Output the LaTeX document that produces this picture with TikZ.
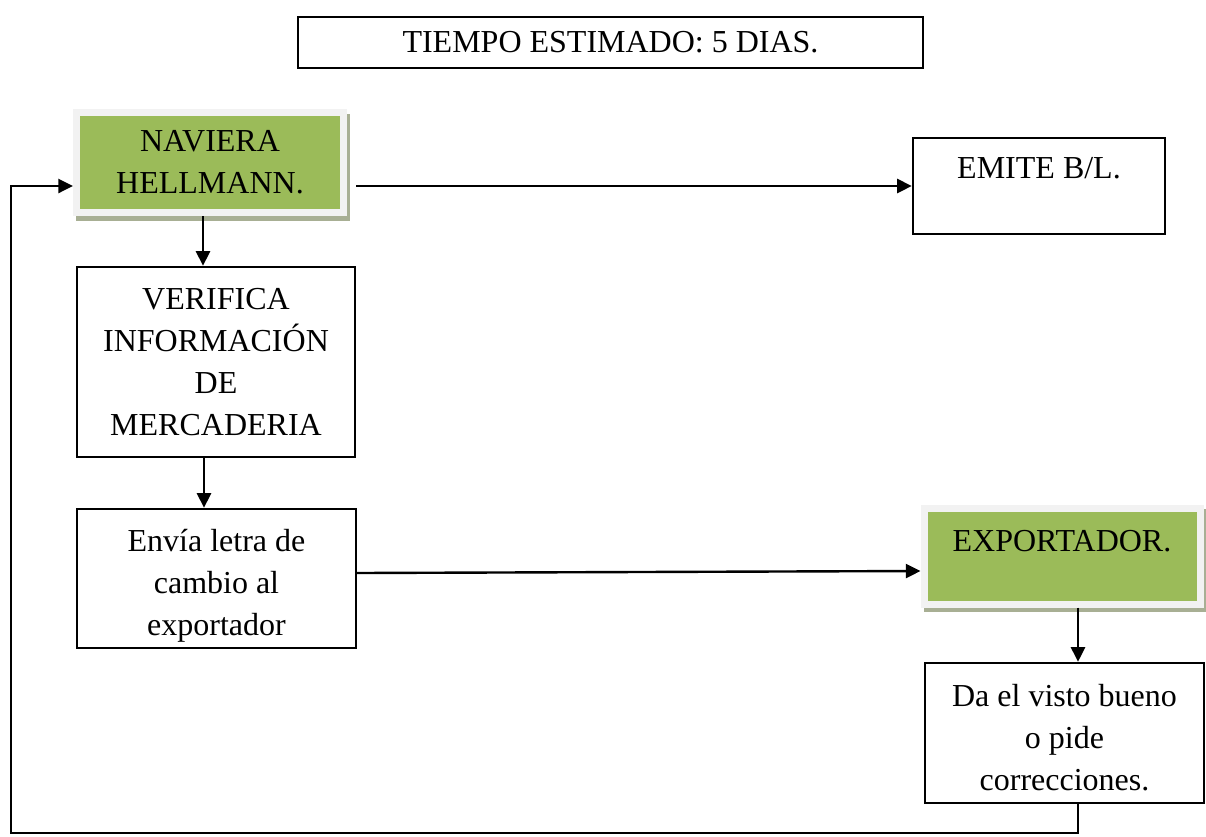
\documentclass[tikz,border=0pt]{standalone}
\usepackage{fontspec}
\setmainfont{Liberation Serif}
\usetikzlibrary{arrows.meta,calc}
\definecolor{olivegreen}{HTML}{9BBB59}
\definecolor{framegray}{HTML}{F2F2F2}
\definecolor{shadowc}{RGB}{168,175,148}
\begin{document}
\begin{tikzpicture}[x=0.75pt,y=-0.75pt,
  txt/.style={font=\fontsize{24pt}{31.5pt}\selectfont},
  box/.style={txt,draw=black,line width=1.8pt,align=center,inner sep=0pt},
  greenbox/.style={txt,preaction={draw=shadowc,fill=shadowc,line width=5.25pt,transform canvas={xshift=2.6pt,yshift=-3.4pt}},
    draw=framegray,line width=5.25pt,fill=olivegreen,align=center,inner sep=0pt},
  arr/.style={line width=1.8pt,-{Triangle[length=11pt,width=10.5pt]}}]

\useasboundingbox (0,0) rectangle (1206,836);

\node[box,minimum width=468.75pt,minimum height=38.25pt] (top) at (610.5,42.5) {TIEMPO ESTIMADO: 5 DIAS.};

\node[greenbox,minimum width=200.25pt,minimum height=75pt] (nav) at (210,162.5) {NAVIERA\\HELLMANN.};

\node[box,anchor=base,minimum width=189pt,text height=30pt,text depth=42pt] (emi) at (1039,178) {EMITE B/L.};

\node[box,minimum width=208.5pt,minimum height=142.5pt] (ver) at (216,362) {VERIFICA\\INFORMACIÓN\\DE\\MERCADERIA};

\node[box,minimum width=209.25pt,minimum height=104.25pt] (env) at (216.5,578.5) {\rule{0pt}{27pt}Envía letra de\\cambio al\\exportador};

\node[greenbox,anchor=base,minimum width=207pt,text height=32.25pt,text depth=39.75pt] (exp) at (1062,551) {EXPORTADOR.};

\node[box,minimum width=209.25pt,minimum height=105pt] (da) at (1064.5,733) {\rule{0pt}{24pt}Da el visto bueno\\o pide\\correcciones.};

\coordinate (xa) at (203,0);
\coordinate (xb) at (204,0);
\coordinate (xc) at (1078,0);
\coordinate (xl) at (11,0);
\coordinate (ybot) at (0,833);

\draw[arr,shorten <=6.75pt] (nav.east |- emi.west) -- (emi.west);
\draw[arr] (nav.south -| xa) -- (ver.north -| xa);
\draw[arr] (ver.south -| xb) -- (env.north -| xb);
\draw[arr] ($(env.east)+(0,-5.5)$) -- ($(exp.west)+(0,15)$);
\draw[arr] (exp.south -| xc) -- (da.north -| xc);
\draw[arr] (da.south -| xc) -- (ybot -| xc) -- (ybot -| xl) -- (xl |- emi.west) -- (nav.west |- emi.west);
\end{tikzpicture}
\end{document}
